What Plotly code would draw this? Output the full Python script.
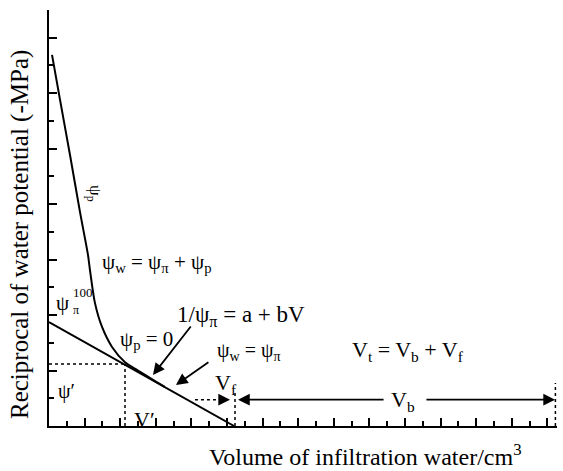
import plotly.graph_objects as go

# ---- data ----
curve_x = [0.17, 0.62, 1.20, 1.74, 2.19, 2.30, 2.58, 2.98, 3.54, 4.27, 5.00, 5.80, 6.50]
curve_y = [13.38, 11.76, 9.70, 7.72, 6.17, 5.63, 4.44, 3.57, 2.85, 2.30, 2.00, 1.68, 1.41]
line_x = [0.0, 10.40]
line_y = [3.75, 0.0]
turgor_x = 4.27
turgor_y = 2.24
vf_x = 10.45
vf_top = 1.30
vt_x = 28.45
vt_top = 1.55
arrow_y = 0.95

FONT = "Liberation Serif"
fig = go.Figure()

fig.add_trace(go.Scatter(x=curve_x, y=curve_y, mode="lines",
                         line=dict(color="black", width=2, shape="spline", smoothing=0.8),
                         hoverinfo="skip"))
fig.add_trace(go.Scatter(x=line_x, y=line_y, mode="lines",
                         line=dict(color="black", width=2), hoverinfo="skip"))
# dotted guide lines
dot = dict(color="black", width=1.5, dash="dot")
fig.add_trace(go.Scatter(x=[0, turgor_x], y=[turgor_y, turgor_y], mode="lines", line=dot, hoverinfo="skip"))
fig.add_trace(go.Scatter(x=[turgor_x, turgor_x], y=[0, turgor_y], mode="lines", line=dot, hoverinfo="skip"))
fig.add_trace(go.Scatter(x=[vf_x, vf_x], y=[0, vf_top], mode="lines", line=dot, hoverinfo="skip"))
fig.add_trace(go.Scatter(x=[vt_x, vt_x], y=[0, vt_top], mode="lines", line=dot, hoverinfo="skip"))
fig.add_trace(go.Scatter(x=[8.2, 9.7], y=[arrow_y, arrow_y], mode="lines", line=dot, hoverinfo="skip"))

ann = []
def arrow(x, y, ax, ay):
    ann.append(dict(x=x, y=y, ax=ax, ay=ay, xref="x", yref="y", axref="x", ayref="y",
                    text="", showarrow=True, arrowhead=2, arrowsize=1.3, arrowwidth=1.8,
                    arrowcolor="black"))

def txt(x, y, t, size=20, xanchor="left", yanchor="middle", angle=0):
    ann.append(dict(x=x, y=y, xref="x", yref="y", text=t, showarrow=False,
                    xanchor=xanchor, yanchor=yanchor, textangle=angle,
                    font=dict(family=FONT, size=size, color="black")))

arrow(5.84, 1.84, 8.03, 3.64)
arrow(7.13, 1.48, 9.04, 2.34)
arrow(10.17, arrow_y, 9.6, arrow_y)
arrow(10.62, arrow_y, 18.88, arrow_y)
arrow(28.43, arrow_y, 21.12, arrow_y)

txt(2.87, 5.88, "ψ<sub>w</sub> = ψ<sub>π</sub> + ψ<sub>p</sub>", size=21)
txt(0.30, 4.45, "ψ", size=21)
txt(1.25, 4.80, "100", size=13)
txt(1.25, 4.18, "π", size=12)
txt(3.88, 3.10, "ψ<sub>p</sub> = 0", size=21)
txt(7.08, 3.95, "1/ψ<sub>π</sub> = a + bV", size=23)
txt(9.33, 2.67, "ψ<sub>w</sub> = ψ<sub>π</sub>", size=20)
txt(1.01, 1.23, "ψ′", size=20, xanchor="center")
txt(5.39, 0.25, "V′", size=22, xanchor="center")
txt(9.20, 1.50, "V<sub>f</sub>", size=22)
txt(20.17, 2.70, "V<sub>t</sub> = V<sub>b</sub> + V<sub>f</sub>", size=22, xanchor="center")
txt(19.9, 0.90, "V<sub>b</sub>", size=22, xanchor="center")
txt(2.53, 8.40, "ψ<sub>p</sub>", size=17, xanchor="center", angle=90)

# axis titles as annotations
ann.append(dict(x=(365 - 49) / 508, y=-(455 - 426) / 416, xref="paper", yref="paper", showarrow=False,
                text="Volume of infiltration water/cm<sup>3</sup>", xanchor="center", yanchor="middle",
                font=dict(family=FONT, size=24, color="black")))
ann.append(dict(x=-(49 - 20) / 508, y=(426 - 235) / 416, xref="paper", yref="paper", showarrow=False,
                text="Reciprocal of water potential (-MPa)", textangle=-90,
                xanchor="center", yanchor="middle",
                font=dict(family=FONT, size=25, color="black")))
fig.update_layout(annotations=ann)

axis_common = dict(showgrid=False, zeroline=False, showticklabels=False,
                   showline=True, linecolor="black", linewidth=2,
                   ticks="inside", ticklen=8, tickwidth=1.5, tickcolor="black",
                   tick0=0, dtick=2,
                   minor=dict(ticks="inside", ticklen=5, tickwidth=1.5, tickcolor="black", dtick=1, showgrid=False))

fig.update_xaxes(range=[0, 28.54], **axis_common)
fig.update_yaxes(range=[0, 15], **axis_common)
fig.update_layout(width=563, height=471, margin=dict(l=49, r=6, t=10, b=45),
                  paper_bgcolor="white", plot_bgcolor="white", showlegend=False)

fig.write_html("out.html", config={"displayModeBar": False},
               post_script="document.body.style.margin='0';document.body.style.overflow='hidden';")
